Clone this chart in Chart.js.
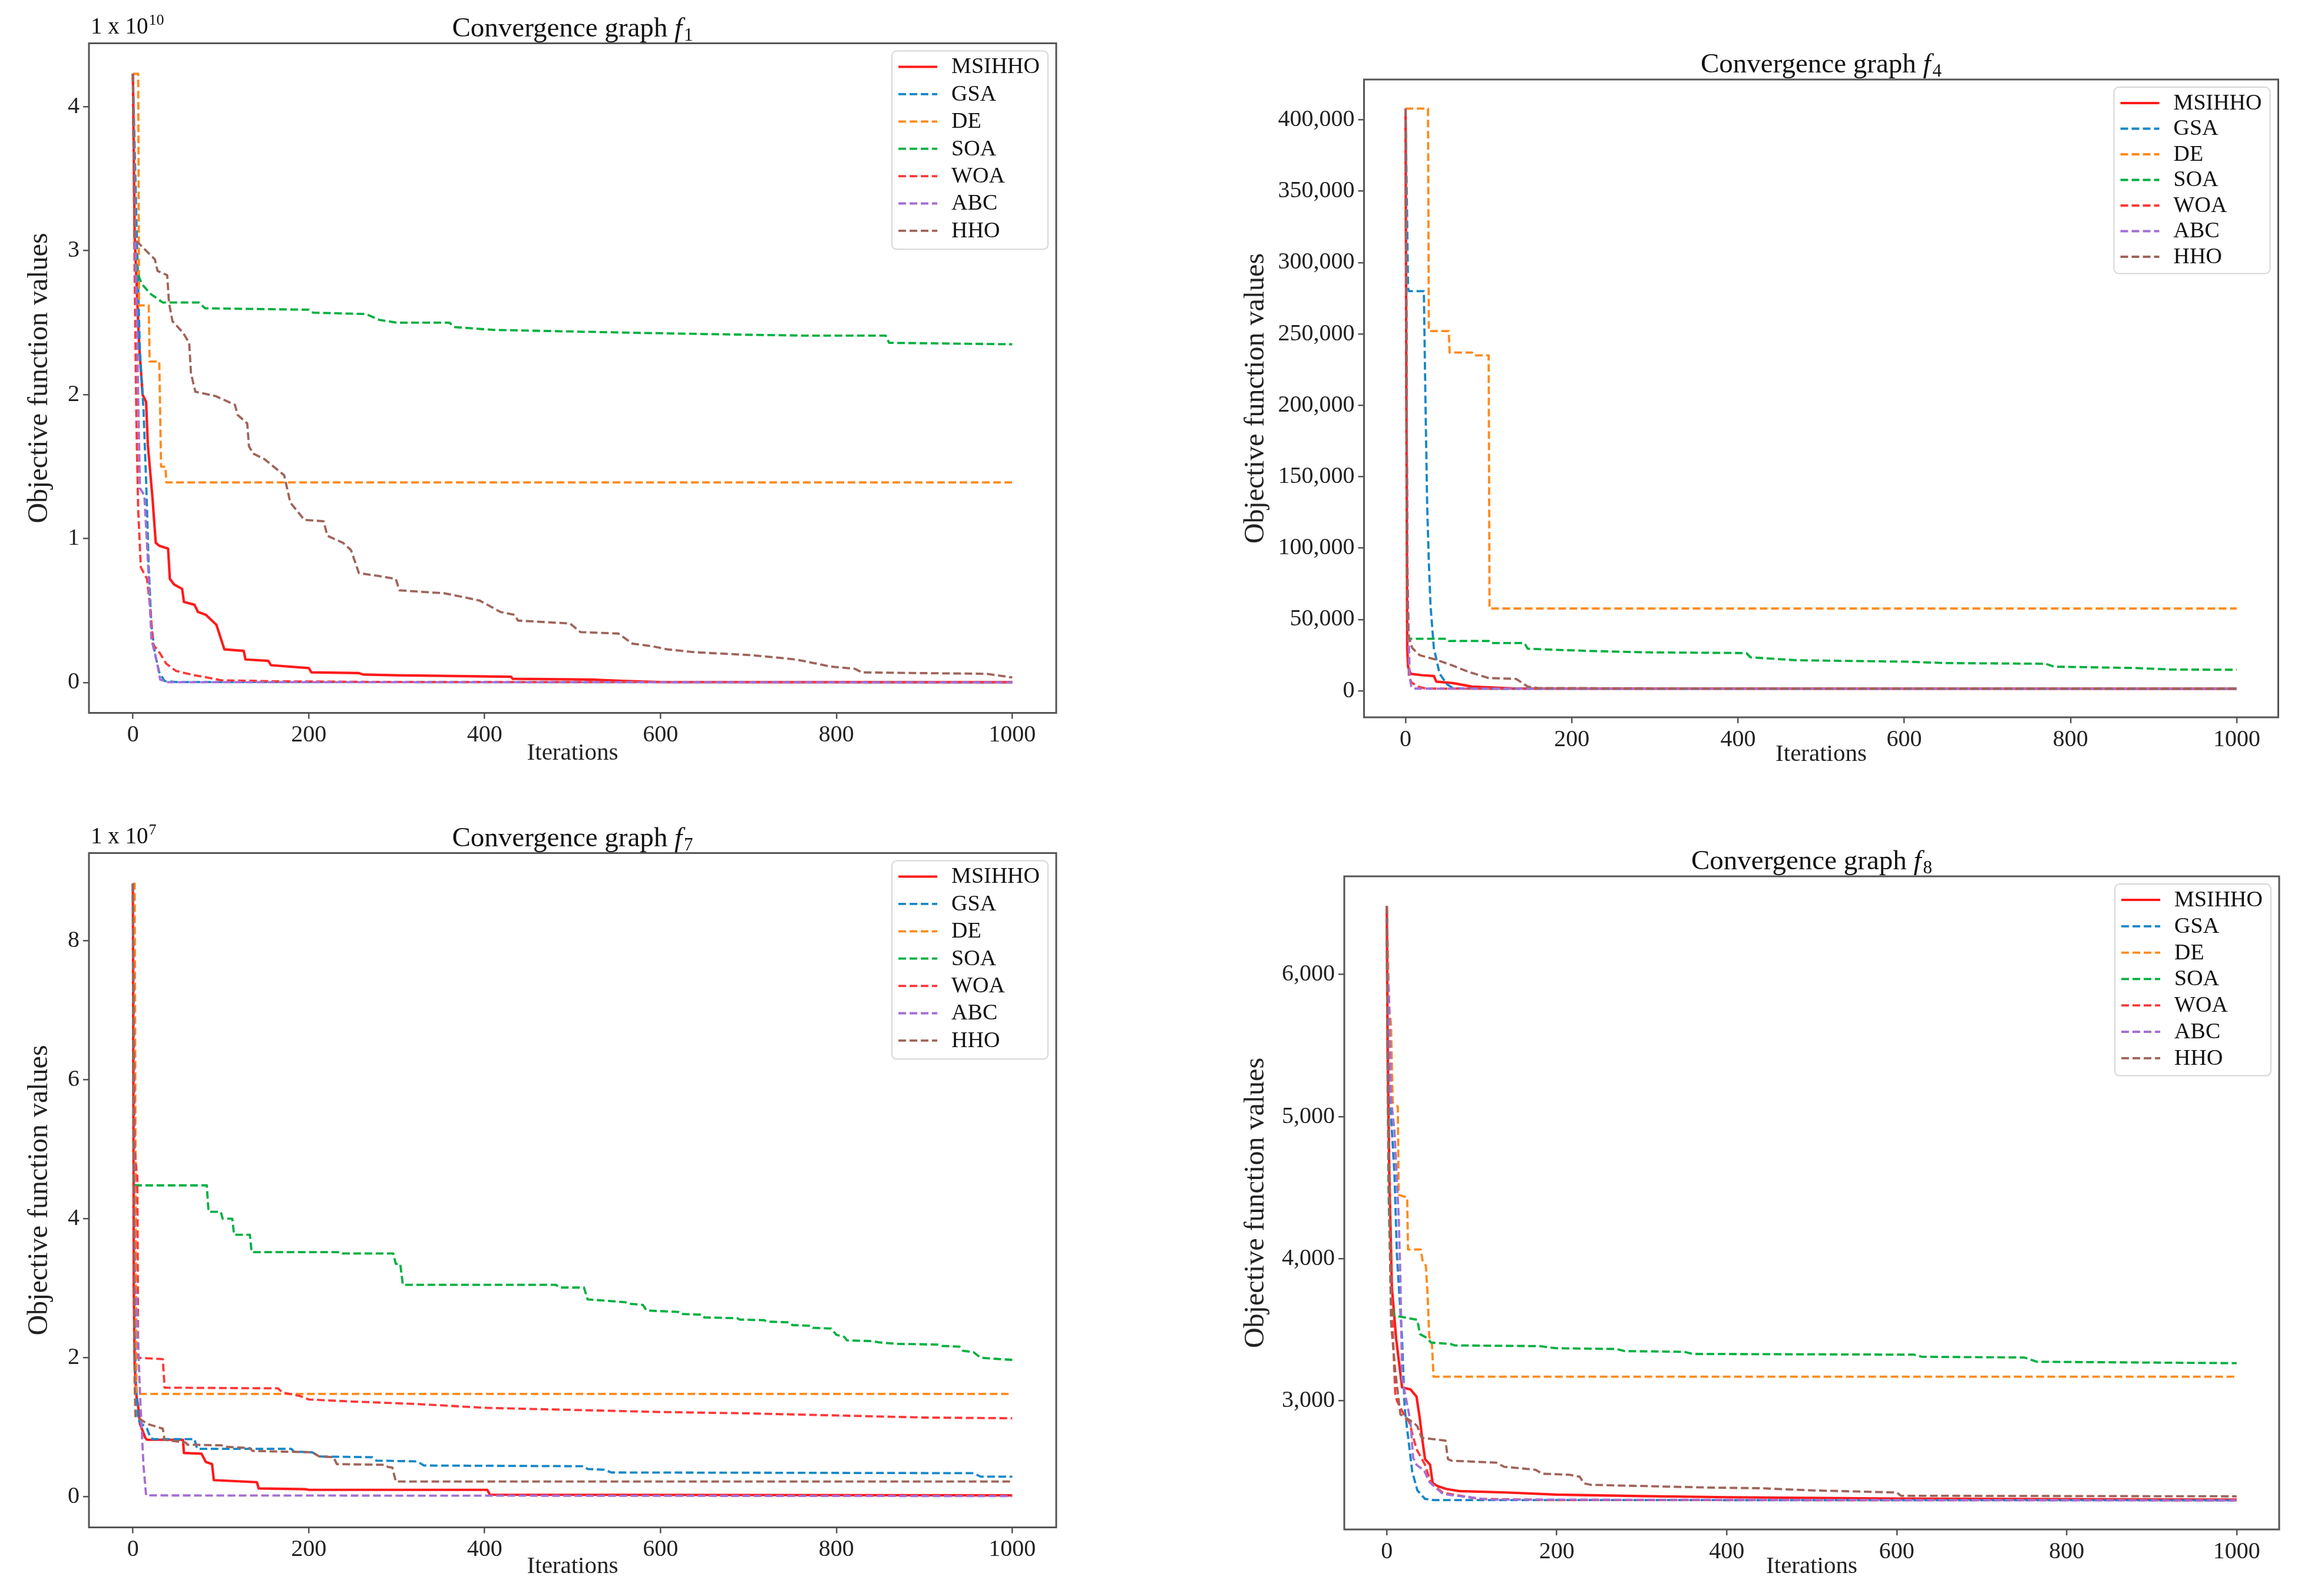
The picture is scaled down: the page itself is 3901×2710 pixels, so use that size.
<!DOCTYPE html>
<html>
<head>
<meta charset="utf-8">
<script src="https://cdn.jsdelivr.net/npm/chart.js@4.4.1/dist/chart.umd.min.js"></script>
<style>
  html, body { margin: 0; padding: 0; background: #fff; }
  body { width: 3901px; height: 2710px; position: relative; overflow: hidden; }
  canvas { position: absolute; }
</style>
</head>
<body>
<canvas id="c1"></canvas>
<canvas id="c4"></canvas>
<canvas id="c7"></canvas>
<canvas id="c8"></canvas>
<script>
// ---- data ----
const algorithms = ["MSIHHO", "GSA", "DE", "SOA", "WOA", "ABC", "HHO"];
const xTicks = [0, 200, 400, 600, 800, 1000];

// f1, values in units of 1e10
const f1_MSIHHO = [[0,4.23],[2,3.1],[7,2.35],[11,2.0],[15,1.95],[17,1.65],[22,1.3],[26,0.97],[30,0.95],[40,0.93],[42,0.72],[47,0.68],[56,0.65],[58,0.56],[70,0.54],[74,0.49],[83,0.47],[95,0.40],[104,0.23],[126,0.22],[128,0.16],[154,0.15],[157,0.12],[200,0.10],[203,0.07],[257,0.065],[262,0.055],[300,0.05],[430,0.04],[432,0.025],[520,0.02],[560,0.01],[600,0.003],[1000,0.002]];
const f1_GSA = [[0,4.23],[4,3.2],[8,2.3],[12,1.9],[15,1.4],[18,0.8],[21,0.4],[25,0.2],[30,0.07],[36,0.01],[50,0.003],[1000,0.001]];
const f1_DE = [[0,4.23],[6,4.23],[7,2.62],[18,2.62],[19,2.23],[30,2.23],[32,1.5],[37,1.5],[38,1.39],[1000,1.39]];
const f1_SOA = [[0,4.23],[2,3.05],[5,2.85],[10,2.77],[20,2.70],[34,2.64],[75,2.64],[82,2.60],[200,2.59],[205,2.57],[265,2.56],[280,2.52],[300,2.50],[360,2.50],[365,2.47],[410,2.45],[490,2.44],[570,2.43],[660,2.42],[765,2.41],[856,2.41],[860,2.36],[1000,2.35]];
const f1_WOA = [[0,4.23],[2,2.8],[4,1.8],[6,1.2],[9,0.8],[16,0.72],[20,0.5],[23,0.26],[29,0.22],[38,0.13],[49,0.08],[70,0.05],[93,0.025],[100,0.015],[165,0.008],[300,0.003],[1000,0.002]];
const f1_ABC = [[0,4.23],[3,3.0],[6,2.0],[8,1.35],[13,1.30],[17,0.85],[21,0.3],[27,0.15],[31,0.02],[40,0.002],[1000,0.001]];
const f1_HHO = [[0,4.23],[2,3.08],[15,3.0],[25,2.94],[28,2.86],[39,2.83],[41,2.64],[45,2.51],[57,2.43],[64,2.36],[66,2.15],[71,2.02],[94,1.99],[116,1.93],[119,1.86],[130,1.80],[132,1.64],[137,1.59],[150,1.55],[172,1.44],[179,1.25],[195,1.13],[217,1.12],[221,1.02],[239,0.97],[248,0.92],[257,0.76],[279,0.74],[299,0.72],[303,0.64],[354,0.62],[394,0.57],[418,0.49],[434,0.47],[438,0.43],[497,0.41],[509,0.35],[552,0.34],[568,0.27],[592,0.25],[608,0.23],[639,0.21],[703,0.19],[754,0.16],[774,0.135],[794,0.11],[821,0.095],[829,0.07],[971,0.06],[1000,0.035]];
const f1Ticks = [0, 1, 2, 3, 4];

// f4
const f4_MSIHHO = [[0,407800],[1,200000],[2,30000],[3,17000],[6,12000],[20,11000],[34,10400],[37,6500],[57,5500],[80,3000],[128,1800],[200,1600],[1000,1500]];
const f4_GSA = [[0,407800],[3,282000],[4,280000],[22,280000],[24,200000],[26,130000],[28,90000],[30,60000],[34,30000],[41,12000],[50,4600],[57,1800],[100,1500],[1000,1500]];
const f4_DE = [[0,407800],[27,407800],[28,252000],[52,252000],[53,237000],[80,237000],[82,235000],[100,235000],[101,57700],[1000,57700]];
const f4_SOA = [[0,407800],[2,80000],[4,36500],[50,36500],[52,35000],[100,35000],[102,33500],[143,33500],[147,29500],[220,28000],[290,27000],[410,26500],[415,23500],[470,21500],[600,20500],[650,19500],[770,19000],[780,17000],[880,16000],[920,15000],[1000,14800]];
const f4_WOA = [[0,407800],[2,100000],[4,10000],[7,6000],[15,3000],[25,1600],[1000,1500]];
const f4_ABC = [[0,407800],[1,300000],[2,81000],[5,9000],[7,3000],[10,1600],[1000,1500]];
const f4_HHO = [[0,407800],[2,80000],[3,40000],[8,30000],[17,25000],[36,22000],[57,17700],[76,13300],[100,9000],[133,8400],[147,3000],[160,2000],[300,1800],[1000,1700]];
const f4Ticks = [0, 50000, 100000, 150000, 200000, 250000, 300000, 350000, 400000];

// f7, values in units of 1e7
const f7_MSIHHO = [[0,8.82],[1,3],[2,1.9],[4,1.45],[6,1.3],[8,1.05],[14,0.85],[16,0.82],[57,0.82],[58,0.63],[78,0.62],[83,0.50],[90,0.47],[92,0.24],[141,0.21],[143,0.12],[196,0.11],[200,0.10],[403,0.10],[406,0.03],[1000,0.02]];
const f7_GSA = [[0,8.82],[3,1.8],[6,1.1],[16,0.98],[20,0.85],[23,0.83],[70,0.83],[73,0.69],[180,0.69],[183,0.65],[204,0.64],[212,0.58],[272,0.57],[277,0.52],[323,0.51],[331,0.45],[513,0.44],[517,0.40],[536,0.39],[544,0.35],[956,0.34],[964,0.29],[1000,0.29]];
const f7_DE = [[0,8.82],[2,8.82],[3,4.8],[4,1.48],[1000,1.48]];
const f7_SOA = [[0,8.82],[1,4.48],[84,4.48],[86,4.1],[100,4.1],[102,4.0],[113,4.0],[115,3.77],[133,3.77],[135,3.52],[236,3.52],[238,3.50],[296,3.50],[299,3.35],[304,3.35],[307,3.05],[481,3.05],[485,3.01],[513,3.01],[517,2.84],[560,2.80],[562,2.78],[580,2.76],[584,2.68],[620,2.66],[623,2.63],[647,2.62],[650,2.58],[687,2.57],[690,2.55],[718,2.54],[721,2.52],[746,2.51],[750,2.47],[770,2.46],[773,2.43],[794,2.42],[800,2.33],[809,2.30],[812,2.25],[840,2.24],[850,2.22],[869,2.20],[916,2.19],[920,2.17],[940,2.16],[944,2.10],[956,2.08],[964,2.0],[987,1.98],[1000,1.97]];
const f7_WOA = [[0,8.82],[2,5.0],[4,4.7],[5,4.6],[6,2.0],[34,1.98],[36,1.57],[165,1.56],[170,1.50],[190,1.45],[200,1.40],[250,1.37],[330,1.33],[400,1.28],[500,1.25],[600,1.22],[700,1.20],[800,1.17],[900,1.14],[1000,1.13]];
const f7_ABC = [[0,8.82],[2,3.0],[4,2.9],[8,1.5],[12,0.45],[15,0.02],[1000,0.01]];
const f7_HHO = [[0,8.82],[2,1.6],[3,1.14],[8,1.12],[16,1.05],[34,0.98],[36,0.82],[60,0.78],[62,0.75],[101,0.74],[104,0.72],[133,0.70],[136,0.66],[204,0.64],[212,0.58],[228,0.57],[232,0.47],[287,0.46],[290,0.43],[295,0.42],[299,0.22],[1000,0.22]];
const f7Ticks = [0, 2, 4, 6, 8];

// f8
const f8_MSIHHO = [[0,6482],[1,5500],[3,4600],[6,3800],[11,3440],[18,3095],[28,3080],[35,3030],[39,2870],[42,2720],[45,2590],[51,2550],[54,2420],[60,2400],[70,2380],[85,2365],[141,2355],[200,2340],[300,2330],[400,2322],[600,2312],[800,2308],[1000,2305]];
const f8_GSA = [[0,6482],[3,5500],[5,5000],[9,4600],[12,4020],[18,3440],[21,2950],[24,2800],[30,2500],[36,2370],[45,2310],[55,2302],[1000,2300]];
const f8_DE = [[0,6482],[3,5750],[5,5650],[7,5100],[13,5070],[14,4450],[24,4430],[25,4065],[40,4065],[42,3990],[46,3950],[48,3750],[50,3450],[53,3420],[55,3170],[1000,3170]];
const f8_SOA = [[0,6482],[2,4500],[5,3700],[9,3600],[36,3570],[39,3470],[48,3440],[52,3410],[75,3400],[80,3390],[180,3385],[200,3370],[270,3365],[280,3350],[350,3345],[360,3330],[620,3325],[630,3310],[750,3305],[765,3275],[1000,3265]];
const f8_WOA = [[0,6482],[2,5000],[4,4200],[7,3500],[10,3050],[12,3000],[23,2870],[26,2860],[35,2660],[45,2550],[52,2420],[66,2353],[94,2325],[110,2310],[200,2302],[1000,2300]];
const f8_ABC = [[0,6482],[1,6050],[3,5770],[5,5130],[9,4900],[14,4300],[16,3880],[18,3160],[28,2850],[31,2600],[35,2550],[44,2510],[50,2430],[66,2345],[78,2335],[120,2305],[1000,2300]];
const f8_HHO = [[0,6482],[1,5200],[4,4000],[5,3550],[10,3210],[16,2905],[32,2845],[36,2820],[41,2740],[69,2720],[72,2590],[76,2579],[129,2565],[138,2536],[175,2515],[183,2487],[215,2480],[227,2466],[232,2420],[240,2409],[378,2390],[440,2385],[500,2370],[600,2355],[605,2332],[1000,2328]];
const f8Ticks = [3000, 4000, 5000, 6000];

// ---- styling ----
const colors = ["#ff1a1a", "#1787c9", "#ff8a1c", "#00b040", "#ff3838", "#a46fd6", "#a0645a"];
const FONT = "'Liberation Serif', 'DejaVu Serif', serif";
Chart.defaults.font.family = FONT;
Chart.defaults.color = "#222";

const plain = v => String(v);
const comma = v => v.toLocaleString("en");

const panels = [
  { id: "c1", left: 0, top: 0, width: 1853, height: 1320, yAxisW: 151, topPad: 73.5, rightPad: 60, xAxisH: 109.5,
    yMin: -0.2115, yMax: 4.4415, yTicks: f1Ticks, fmt: plain, sub: "1", exp: "10", yTitleX: 67, xTitleB: 41, rowGap: 46.4,
    series: [f1_MSIHHO, f1_GSA, f1_DE, f1_SOA, f1_WOA, f1_ABC, f1_HHO] },
  { id: "c4", left: 2060, top: 0, width: 1841, height: 1330, yAxisW: 255.5, topPad: 135, rightPad: 33.5, xAxisH: 112,
    yMin: -18500, yMax: 428200, yTicks: f4Ticks, fmt: comma, sub: "4", exp: null, yTitleX: 72, xTitleB: 49, rowGap: 43.5,
    series: [f4_MSIHHO, f4_GSA, f4_DE, f4_SOA, f4_WOA, f4_ABC, f4_HHO] },
  { id: "c7", left: 0, top: 1340, width: 1853, height: 1370, yAxisW: 151, topPad: 108.5, rightPad: 60, xAxisH: 116.5,
    yMin: -0.44, yMax: 9.26, yTicks: f7Ticks, fmt: plain, sub: "7", exp: "7", yTitleX: 67, xTitleB: 50, rowGap: 46.4,
    series: [f7_MSIHHO, f7_GSA, f7_DE, f7_SOA, f7_WOA, f7_ABC, f7_HHO] },
  { id: "c8", left: 2060, top: 1340, width: 1841, height: 1370, yAxisW: 222, topPad: 148, rightPad: 32, xAxisH: 113,
    yMin: 2095, yMax: 6691, yTicks: f8Ticks, fmt: comma, sub: "8", exp: null, yTitleX: 72, xTitleB: 50, rowGap: 44.8,
    series: [f8_MSIHHO, f8_GSA, f8_DE, f8_SOA, f8_WOA, f8_ABC, f8_HHO] }
];

// frame, title, multiplier and legend drawn like the matplotlib figure
const paperDecor = {
  id: "paperDecor",
  afterDraw(chart, args, opts) {
    const ctx = chart.ctx, a = chart.chartArea;
    ctx.save();
    ctx.strokeStyle = "#555";
    ctx.lineWidth = 3;
    ctx.strokeRect(a.left, a.top, a.right - a.left, a.bottom - a.top);

    // title "Convergence graph f_n"
    ctx.fillStyle = "#111";
    ctx.textBaseline = "alphabetic";
    ctx.textAlign = "left";
    const main = "Convergence graph ";
    ctx.font = "47px " + FONT; const w1 = ctx.measureText(main).width;
    ctx.font = "italic 47px " + FONT; const w2 = ctx.measureText("f").width;
    ctx.font = "31px " + FONT; const w3 = ctx.measureText(opts.sub).width;
    let x = (a.left + a.right) / 2 - (w1 + w2 + w3 + 3) / 2;
    const base = a.top - 12;
    ctx.font = "47px " + FONT; ctx.fillText(main, x, base); x += w1;
    ctx.font = "italic 47px " + FONT; ctx.fillText("f", x, base); x += w2 + 3;
    ctx.font = "31px " + FONT; ctx.fillText(opts.sub, x, base + 7);

    // offset text "1 x 10^n"
    if (opts.exp) {
      const mb = a.top - 17;
      ctx.font = "39px " + FONT;
      const t = "1 x 10";
      ctx.fillText(t, a.left + 3, mb);
      const tw = ctx.measureText(t).width;
      ctx.font = "26px " + FONT;
      ctx.fillText(opts.exp, a.left + 3 + tw + 1, mb - 15);
    }

    // legend
    const sets = chart.data.datasets;
    ctx.font = "38px " + FONT;
    let maxW = 0;
    sets.forEach(d => { maxW = Math.max(maxW, ctx.measureText(d.label).width); });
    const bw = 101 + maxW + 14;
    const bh = sets.length * opts.rowGap + 12;
    const bx = a.right - 14 - bw, by = a.top + 13;
    ctx.beginPath();
    ctx.roundRect(bx, by, bw, bh, 8);
    ctx.fillStyle = "rgba(255,255,255,0.85)";
    ctx.fill();
    ctx.strokeStyle = "#d6d6d6";
    ctx.lineWidth = 2;
    ctx.stroke();
    sets.forEach((d, i) => {
      const ry = by + 27 + i * opts.rowGap;
      ctx.beginPath();
      ctx.setLineDash(d.borderDash || []);
      ctx.strokeStyle = d.borderColor;
      ctx.lineWidth = d.borderWidth;
      ctx.lineCap = "butt";
      ctx.moveTo(bx + 11, ry);
      ctx.lineTo(bx + 77, ry);
      ctx.stroke();
      ctx.setLineDash([]);
      ctx.fillStyle = "#111";
      ctx.textBaseline = "middle";
      ctx.fillText(d.label, bx + 101, ry + 1);
    });
    ctx.restore();
  }
};

function makePanel(p) {
  const canvas = document.getElementById(p.id);
  canvas.width = p.width;
  canvas.height = p.height;
  canvas.style.left = p.left + "px";
  canvas.style.top = p.top + "px";

  const datasets = algorithms.map((name, i) => ({
    label: name,
    data: p.series[i].map(pt => ({ x: pt[0], y: pt[1] })),
    borderColor: colors[i],
    borderWidth: i === 0 ? 4.2 : 3.8,
    borderDash: i === 0 ? [] : [13, 6],
    borderCapStyle: "butt",
    borderJoinStyle: "round",
    pointRadius: 0,
    tension: 0,
    fill: false,
    order: algorithms.length - i
  }));

  const tickGrid = { drawOnChartArea: false, drawTicks: true, tickLength: 10, color: "#555", lineWidth: 2.5 };

  return new Chart(canvas.getContext("2d"), {
    type: "line",
    data: { datasets: datasets },
    plugins: [paperDecor],
    options: {
      responsive: false,
      animation: false,
      devicePixelRatio: 1,
      layout: { padding: { left: 0, top: p.topPad, right: p.rightPad, bottom: 0 } },
      plugins: {
        legend: { display: false },
        tooltip: { enabled: false },
        paperDecor: { sub: p.sub, exp: p.exp, rowGap: p.rowGap }
      },
      scales: {
        x: {
          type: "linear",
          min: -50,
          max: 1050,
          afterBuildTicks: s => { s.ticks = xTicks.map(v => ({ value: v })); },
          afterFit: s => { s.height = p.xAxisH; },
          grid: tickGrid,
          border: { display: false },
          ticks: { font: { size: 40 }, color: "#222", padding: 4, maxRotation: 0, autoSkip: false, callback: plain },
          title: { display: true, text: "Iterations", color: "#222", font: { size: 41, lineHeight: 1 },
                   padding: { top: 0, bottom: p.xTitleB - 20.5 } }
        },
        y: {
          type: "linear",
          min: p.yMin,
          max: p.yMax,
          afterBuildTicks: s => { s.ticks = p.yTicks.map(v => ({ value: v })); },
          afterFit: s => { s.width = p.yAxisW; },
          grid: tickGrid,
          border: { display: false },
          ticks: { font: { size: 40 }, color: "#222", padding: 6, autoSkip: false, callback: p.fmt },
          title: { display: true, text: "Objective function values", color: "#222", font: { size: 48, lineHeight: 1 },
                   padding: { top: p.yTitleX - 24, bottom: 0 } }
        }
      }
    }
  });
}

panels.forEach(makePanel);
</script>
</body>
</html>
